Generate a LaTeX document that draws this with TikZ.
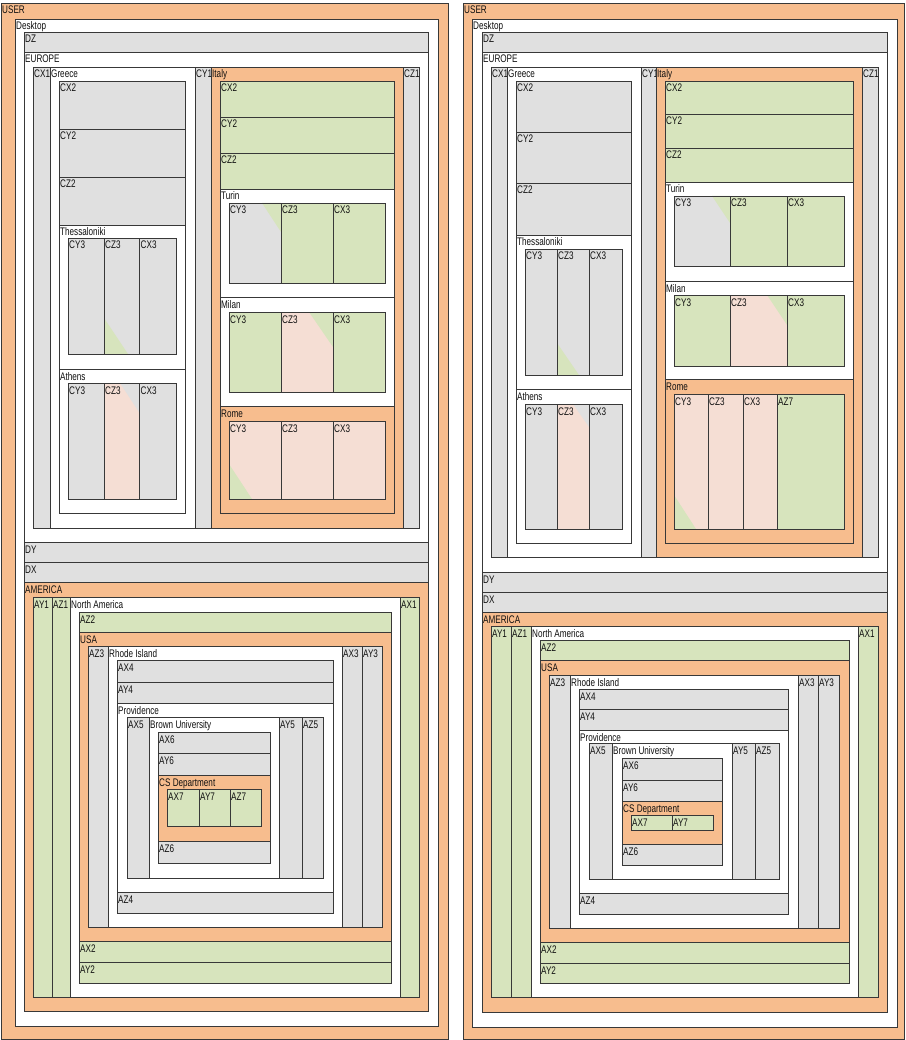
\documentclass[tikz,border=0pt]{standalone}
\usepackage{fontspec}
\newfontfamily\lblfont[FakeStretch=0.74]{Liberation Sans}
\definecolor{orgc}{HTML}{F7BD8E}
\definecolor{grnc}{HTML}{D7E4BD}
\definecolor{gryc}{HTML}{E0E0E0}
\definecolor{pnkc}{HTML}{F5DED4}
\definecolor{bdc}{HTML}{383838}
\definecolor{txc}{HTML}{101010}
\newcounter{bxc}
\tikzset{
  lbl/.style={anchor=base west, inner sep=0pt, font=\lblfont\fontsize{11}{12}\selectfont, text=txc},
  bd/.style={draw=bdc, line width=0.9pt}
}
\newcommand\bx[6]{%
  \stepcounter{bxc}%
  \filldraw[fill=#1, bd] (#2,#3) rectangle (#4,#5);
  \node[lbl] (b\thebxc) at ({#2+1},{#3+11}) {#6};}
\newcommand\bxt[8]{%
  \stepcounter{bxc}%
  \fill[#1] (#2,#3) rectangle (#4,#5);
  \fill[#7] #8 -- cycle;
  \draw[bd] (#2,#3) rectangle (#4,#5);
  \node[lbl] (b\thebxc) at ({#2+1},{#3+11}) {#6};}
\begin{document}
\begin{tikzpicture}[x=1pt,y=-1pt]
\useasboundingbox (0,0) rectangle (905,1040);
\fill[white] (0,0) rectangle (905,1040);
% ================= LEFT PANEL =================
\bx{orgc}{1}{3}{448}{1039}{USER}
\bx{white}{15}{19}{438}{1026}{Desktop}
\bx{gryc}{24}{32}{428}{52}{DZ}
\bx{white}{24}{52}{428}{542}{EUROPE}
\bx{gryc}{33}{67}{50}{528}{CX1}
\bx{white}{50}{67}{195}{528}{Greece}
\bx{gryc}{195}{67}{211}{528}{CY1}
\bx{orgc}{211}{67}{403}{528}{Italy}
\bx{gryc}{403}{67}{419}{528}{CZ1}
% Greece
\bx{gryc}{59}{81}{185}{129}{CX2}
\bx{gryc}{59}{129}{185}{177}{CY2}
\bx{gryc}{59}{177}{185}{225}{CZ2}
\bx{white}{59}{225}{185}{369}{Thessaloniki}
\bx{white}{59}{369}{185}{513}{Athens}
\bx{gryc}{68}{238}{104}{354}{CY3}
\bxt{gryc}{104}{238}{139.5}{354}{CZ3}{grnc}{(104,318)--(104,354)--(128,354)}
\bx{gryc}{139.5}{238}{176}{354}{CX3}
\bx{gryc}{68}{383}{104}{499}{CY3}
\bxt{pnkc}{104}{383}{139.5}{499}{CZ3}{gryc}{(120,383)--(139.5,383)--(139.5,413)}
\bx{gryc}{139.5}{383}{176}{499}{CX3}
% Italy
\bx{grnc}{220}{81}{394}{117}{CX2}
\bx{grnc}{220}{117}{394}{153}{CY2}
\bx{grnc}{220}{153}{394}{189}{CZ2}
\bx{white}{220}{189}{394}{297}{Turin}
\bx{white}{220}{297}{394}{406}{Milan}
\bx{orgc}{220}{406}{394}{513}{Rome}
\bxt{gryc}{229}{203}{281}{283}{CY3}{grnc}{(262,203)--(281,203)--(281,232)}
\bx{grnc}{281}{203}{333}{283}{CZ3}
\bx{grnc}{333}{203}{385}{283}{CX3}
\bx{grnc}{229}{312}{281}{392}{CY3}
\bxt{pnkc}{281}{312}{333}{392}{CZ3}{grnc}{(309,312)--(333,312)--(333,347)}
\bx{grnc}{333}{312}{385}{392}{CX3}
\bxt{pnkc}{229}{421}{281}{499}{CY3}{grnc}{(229,464)--(229,499)--(252,499)}
\bx{pnkc}{281}{421}{333}{499}{CZ3}
\bx{pnkc}{333}{421}{385}{499}{CX3}
% DY DX AMERICA
\bx{gryc}{24}{542}{428}{562}{DY}
\bx{gryc}{24}{562}{428}{582}{DX}
\bx{orgc}{24}{582}{428}{1011}{AMERICA}
\bx{grnc}{33}{597}{52}{997}{AY1}
\bx{grnc}{52}{597}{70}{997}{AZ1}
\bx{white}{70}{597}{400}{997}{North America}
\bx{grnc}{400}{597}{419}{997}{AX1}
\bx{grnc}{79}{612}{391}{632}{AZ2}
\bx{orgc}{79}{632}{391}{941}{USA}
\bx{grnc}{79}{941}{391}{962}{AX2}
\bx{grnc}{79}{962}{391}{983}{AY2}
\bx{gryc}{88}{646}{108}{927}{AZ3}
\bx{white}{108}{646}{342}{927}{Rhode Island}
\bx{gryc}{342}{646}{362}{927}{AX3}
\bx{gryc}{362}{646}{382}{927}{AY3}
\bx{gryc}{117}{660}{333}{682}{AX4}
\bx{gryc}{117}{682}{333}{703}{AY4}
\bx{white}{117}{703}{333}{892}{Providence}
\bx{gryc}{117}{892}{333}{913}{AZ4}
\bx{gryc}{127}{717}{149}{878}{AX5}
\bx{white}{149}{717}{279}{878}{Brown University}
\bx{gryc}{279}{717}{302}{878}{AY5}
\bx{gryc}{302}{717}{323}{878}{AZ5}
\bx{gryc}{158}{732}{270}{753}{AX6}
\bx{gryc}{158}{753}{270}{775}{AY6}
\bx{orgc}{158}{775}{270}{841}{CS Department}
\bx{gryc}{158}{841}{270}{863}{AZ6}
\bx{grnc}{167}{789}{199}{826}{AX7}
\bx{grnc}{199}{789}{230}{826}{AY7}
\bx{grnc}{230}{789}{261}{826}{AZ7}
% ================= RIGHT PANEL =================
\bx{orgc}{463}{3}{904}{1039}{USER}
\bx{white}{472}{19}{897}{1027}{Desktop}
\bx{gryc}{482}{32}{887}{52}{DZ}
\bx{white}{482}{52}{887}{572}{EUROPE}
\bx{gryc}{491}{67}{507}{557}{CX1}
\bx{white}{507}{67}{641}{557}{Greece}
\bx{gryc}{641}{67}{656}{557}{CY1}
\bx{orgc}{656}{67}{862}{557}{Italy}
\bx{gryc}{862}{67}{878}{557}{CZ1}
% Greece
\bx{gryc}{516}{81}{631}{132}{CX2}
\bx{gryc}{516}{132}{631}{183}{CY2}
\bx{gryc}{516}{183}{631}{235}{CZ2}
\bx{white}{516}{235}{631}{389}{Thessaloniki}
\bx{white}{516}{389}{631}{543}{Athens}
\bx{gryc}{525}{249}{557}{375}{CY3}
\bxt{gryc}{557}{249}{589}{375}{CZ3}{grnc}{(557,343)--(557,375)--(579,375)}
\bx{gryc}{589}{249}{622}{375}{CX3}
\bx{gryc}{525}{404}{557}{529}{CY3}
\bxt{pnkc}{557}{404}{589}{529}{CZ3}{gryc}{(573,404)--(589,404)--(589,427)}
\bx{gryc}{589}{404}{622}{529}{CX3}
% Italy
\bx{grnc}{665}{81}{853}{114}{CX2}
\bx{grnc}{665}{114}{853}{148}{CY2}
\bx{grnc}{665}{148}{853}{182}{CZ2}
\bx{white}{665}{182}{853}{281}{Turin}
\bx{white}{665}{281}{853}{379}{Milan}
\bx{orgc}{665}{379}{853}{543}{Rome}
\bxt{gryc}{674}{196}{730}{266}{CY3}{grnc}{(712,196)--(730,196)--(730,223)}
\bx{grnc}{730}{196}{787}{266}{CZ3}
\bx{grnc}{787}{196}{844}{266}{CX3}
\bx{grnc}{674}{295}{730}{366}{CY3}
\bxt{pnkc}{730}{295}{787}{366}{CZ3}{grnc}{(767,295)--(787,295)--(787,325)}
\bx{grnc}{787}{295}{844}{366}{CX3}
\bxt{pnkc}{674}{394}{708}{529}{CY3}{grnc}{(674,495)--(674,529)--(696,529)}
\bx{pnkc}{708}{394}{743}{529}{CZ3}
\bx{pnkc}{743}{394}{777}{529}{CX3}
\bx{grnc}{777}{394}{844}{529}{AZ7}
% DY DX AMERICA
\bx{gryc}{482}{572}{887}{592}{DY}
\bx{gryc}{482}{592}{887}{612}{DX}
\bx{orgc}{482}{612}{887}{1012}{AMERICA}
\bx{grnc}{491}{626}{511}{997}{AY1}
\bx{grnc}{511}{626}{531}{997}{AZ1}
\bx{white}{531}{626}{858}{997}{North America}
\bx{grnc}{858}{626}{878}{997}{AX1}
\bx{grnc}{540}{640}{849}{660}{AZ2}
\bx{orgc}{540}{660}{849}{942}{USA}
\bx{grnc}{540}{942}{849}{963}{AX2}
\bx{grnc}{540}{963}{849}{983}{AY2}
\bx{gryc}{549}{675}{570}{928}{AZ3}
\bx{white}{570}{675}{798}{928}{Rhode Island}
\bx{gryc}{798}{675}{818}{928}{AX3}
\bx{gryc}{818}{675}{839}{928}{AY3}
\bx{gryc}{579}{689}{788}{709}{AX4}
\bx{gryc}{579}{709}{788}{730}{AY4}
\bx{white}{579}{730}{788}{893}{Providence}
\bx{gryc}{579}{893}{788}{914}{AZ4}
\bx{gryc}{589}{743}{612}{879}{AX5}
\bx{white}{612}{743}{732}{879}{Brown University}
\bx{gryc}{732}{743}{755}{879}{AY5}
\bx{gryc}{755}{743}{779}{879}{AZ5}
\bx{gryc}{622}{758}{722}{780}{AX6}
\bx{gryc}{622}{780}{722}{801}{AY6}
\bx{orgc}{622}{801}{722}{844}{CS Department}
\bx{gryc}{622}{844}{722}{865}{AZ6}
\bx{grnc}{631}{815}{672}{830}{AX7}
\bx{grnc}{672}{815}{713}{830}{AY7}
\end{tikzpicture}
\end{document}
